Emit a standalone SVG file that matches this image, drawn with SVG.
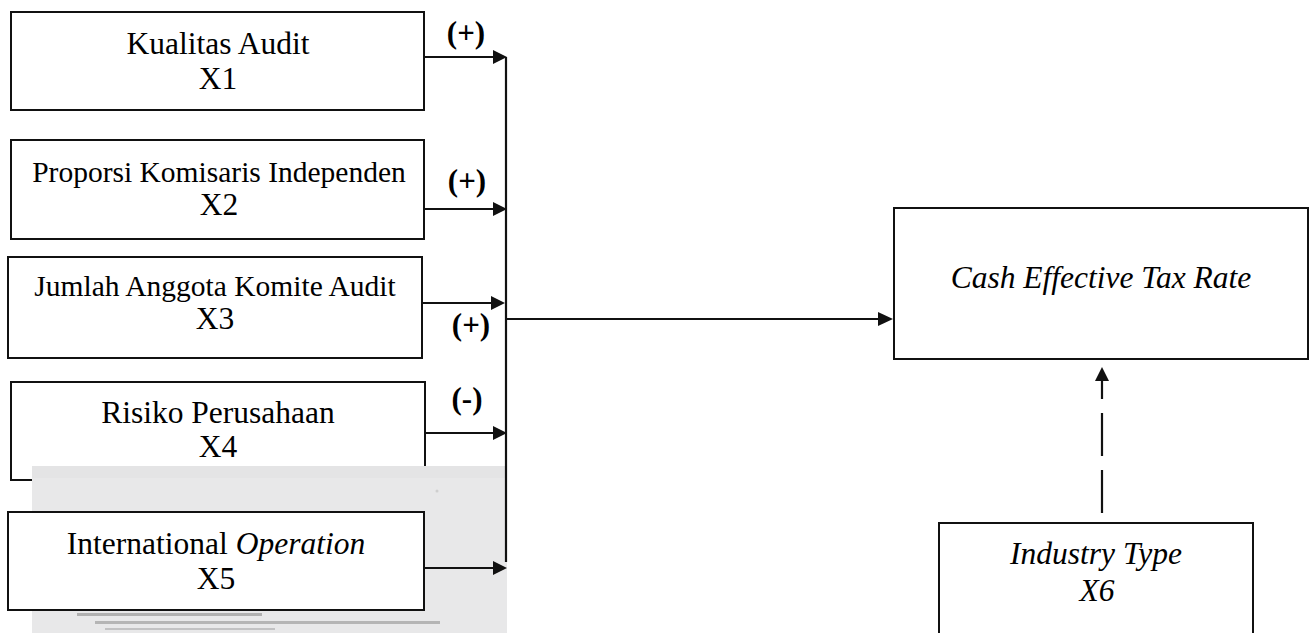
<svg xmlns="http://www.w3.org/2000/svg" width="1316" height="633" viewBox="0 0 1316 633">
<style>
.box{fill:#fff;stroke:#111;stroke-width:2}
.t{font-family:"Liberation Serif","Times New Roman",serif;font-size:31.5px;fill:#000;text-anchor:middle}
.s{font-size:29.5px}
.i{font-style:italic}
.lbl{font-family:"Liberation Serif","Times New Roman",serif;font-size:31px;font-weight:bold;fill:#000;text-anchor:middle}
.ln{stroke:#111;stroke-width:2.2;fill:none}
.dash{stroke:#111;stroke-width:2.2;fill:none;stroke-dasharray:43 14}
.ah{fill:#111}
</style>
<rect width="1316" height="633" fill="#fff"/>
<g id="x1"><rect class="box" x="11" y="12" width="413" height="98"/><text class="t" x="218" y="54">Kualitas Audit</text><text class="t" x="218" y="89">X1</text></g>
<g id="x2"><rect class="box" x="11" y="140" width="413" height="99"/><text class="t s" x="219" y="182">Proporsi Komisaris Independen</text><text class="t" x="219" y="215">X2</text></g>
<g id="x3"><rect class="box" x="8" y="257" width="414" height="101"/><text class="t s" x="215" y="296">Jumlah Anggota Komite Audit</text><text class="t" x="215" y="329">X3</text></g>
<g id="x4"><rect class="box" x="11" y="382" width="414" height="98"/><text class="t" x="218" y="423">Risiko Perusahaan</text><text class="t" x="218" y="457">X4</text></g>
<g id="scan">
<rect x="32" y="466" width="475" height="167" fill="#e8e8e9"/>
<rect x="32" y="466" width="475" height="12" fill="#e4e4e5"/>
<circle cx="437" cy="491" r="1.5" fill="#cfcfcf"/>
<rect x="77" y="613" width="185" height="3" fill="#8a8a8a" opacity="0.6"/>
<rect x="95" y="621" width="345" height="3" fill="#8a8a8a" opacity="0.55"/>
<rect x="105" y="628" width="170" height="2" fill="#8a8a8a" opacity="0.4"/>
</g>
<g id="x5"><rect class="box" x="8" y="512" width="416" height="98"/><text class="t" x="216" y="554">International <tspan class="i">Operation</tspan></text><text class="t" x="216" y="589">X5</text></g>
<g id="y"><rect class="box" x="894" y="208" width="414" height="151"/><text class="t i" x="1101" y="288">Cash Effective Tax Rate</text></g>
<g id="x6"><rect class="box" x="939" y="523" width="314" height="120"/><text class="t i" x="1096" y="564">Industry Type</text><text class="t i" x="1097" y="601">X6</text></g>
<g id="connectors">
<line class="ln" x1="506" y1="57" x2="506" y2="562"/>
<line class="ln" x1="424" y1="57" x2="494" y2="57"/><polygon class="ah" points="493,50 507,57 493,64"/>
<line class="ln" x1="424" y1="209" x2="494" y2="209"/><polygon class="ah" points="493,202 507,209 493,216"/>
<line class="ln" x1="422" y1="303" x2="492" y2="303"/><polygon class="ah" points="491,296 505,303 491,310"/>
<line class="ln" x1="425" y1="433" x2="494" y2="433"/><polygon class="ah" points="493,426 507,433 493,440"/>
<line class="ln" x1="424" y1="568" x2="494" y2="568"/><polygon class="ah" points="493,561 507,568 493,575"/>
<line class="ln" x1="506" y1="319" x2="879" y2="319"/><polygon class="ah" points="878,312 893,319 878,326"/>
<line class="dash" x1="1102" y1="513" x2="1102" y2="381"/><polygon class="ah" points="1095,381 1102,367 1109,381"/>
<text class="lbl" x="466" y="43">(+)</text>
<text class="lbl" x="467" y="191">(+)</text>
<text class="lbl" x="471" y="335">(+)</text>
<text class="lbl" x="467" y="409">(-)</text>
</g>
</svg>
